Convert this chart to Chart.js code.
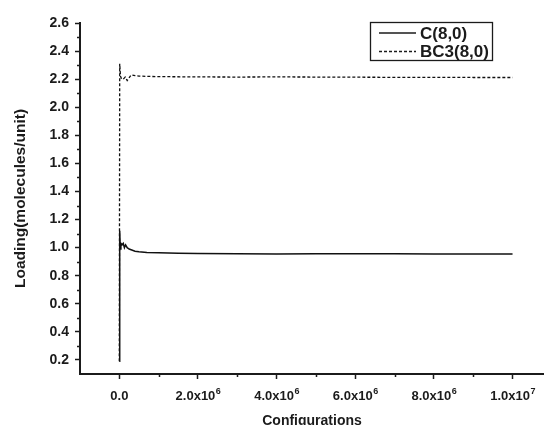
<!DOCTYPE html>
<html>
<head>
<meta charset="utf-8">
<script src="https://cdn.jsdelivr.net/npm/chart.js@4.4.0/dist/chart.umd.min.js"></script>
<style>
  html, body { margin: 0; padding: 0; background: #fff; }
</style>
</head>
<body>
<canvas id="loading" width="544" height="425"></canvas>
<script>
// ---- datos ----
const seriesLabels = ['C(8,0)', 'BC3(8,0)'];

const cConfigs  = [0, 1e4, 2.5e4, 4e4, 7e4, 1e5, 1.3e5, 1.6e5, 2e5, 2.5e5, 3e5, 4e5, 5e5, 7e5, 1e6, 1.5e6, 2e6, 3e6, 4e6, 5e6, 6e6, 7e6, 8e6, 9e6, 1e7];
const cLoading  = [0.19, 1.12, 0.99, 1.03, 1.02, 1.03, 1.00, 1.02, 1.00, 0.99, 0.985, 0.975, 0.97, 0.965, 0.963, 0.96, 0.958, 0.956, 0.955, 0.956, 0.957, 0.956, 0.955, 0.955, 0.955];

const bc3Configs = [0, 1e4, 3e4, 6e4, 1e5, 1.5e5, 2e5, 3e5, 4e5, 5e5, 7e5, 1e6, 2e6, 3e6, 4e6, 5e6, 6e6, 7e6, 8e6, 9e6, 1e7];
const bc3Loading = [0.19, 2.31, 2.22, 2.20, 2.20, 2.215, 2.19, 2.23, 2.225, 2.222, 2.22, 2.218, 2.216, 2.215, 2.216, 2.215, 2.214, 2.213, 2.213, 2.212, 2.212];

const xMajorTicks = [0, 2e6, 4e6, 6e6, 8e6, 1e7];
const xTickBase   = ['0.0', '2.0x10', '4.0x10', '6.0x10', '8.0x10', '1.0x10'];
const xTickExp    = ['', '6', '6', '6', '6', '7'];
const xMinorTicks = [1e6, 3e6, 5e6, 7e6, 9e6];
const yMajorTicks = [0.2, 0.4, 0.6, 0.8, 1.0, 1.2, 1.4, 1.6, 1.8, 2.0, 2.2, 2.4, 2.6];
const yMinorTicks = [0.3, 0.5, 0.7, 0.9, 1.1, 1.3, 1.5, 1.7, 1.9, 2.1, 2.3, 2.5];

const INK = '#1b1b1b';
const FONT = "'Liberation Sans', Arial, sans-serif";

// marcas menores de los ejes
const minorTicks = {
  id: 'minorTicks',
  afterDraw(chart) {
    const { ctx, scales: { x, y } } = chart;
    ctx.save();
    ctx.strokeStyle = INK;
    ctx.lineWidth = 1.5;
    ctx.beginPath();
    xMinorTicks.forEach(v => {
      const px = Math.round(x.getPixelForValue(v)) + 0.5;
      ctx.moveTo(px, x.top);
      ctx.lineTo(px, x.top + 3);
    });
    yMinorTicks.forEach(v => {
      const py = Math.round(y.getPixelForValue(v)) + 0.5;
      ctx.moveTo(y.right, py);
      ctx.lineTo(y.right - 3, py);
    });
    ctx.stroke();
    ctx.restore();
  },
};

// etiquetas del eje x con exponente en superíndice
const expLabels = {
  id: 'expLabels',
  afterDraw(chart) {
    const { ctx, scales: { x } } = chart;
    const baseFont = `bold 13px ${FONT}`;
    const expFont  = `bold 9px ${FONT}`;
    const baseline = x.top + 26;
    ctx.save();
    ctx.fillStyle = INK;
    ctx.textBaseline = 'alphabetic';
    ctx.textAlign = 'left';
    xMajorTicks.forEach((v, i) => {
      ctx.font = baseFont;
      const wb = ctx.measureText(xTickBase[i]).width;
      ctx.font = expFont;
      const we = xTickExp[i] ? ctx.measureText(xTickExp[i]).width : 0;
      const start = x.getPixelForValue(v) - (wb + we) / 2;
      ctx.font = baseFont;
      ctx.fillText(xTickBase[i], start, baseline);
      if (xTickExp[i]) {
        ctx.font = expFont;
        ctx.fillText(xTickExp[i], start + wb + 0.5, baseline - 6);
      }
    });
    ctx.restore();
  },
};

// leyenda con recuadro dentro del área
const boxLegend = {
  id: 'boxLegend',
  afterDraw(chart) {
    const { ctx } = chart;
    const left = 370, top = 22, w = 122, h = 38;
    ctx.save();
    ctx.strokeStyle = INK;
    ctx.lineWidth = 1.3;
    ctx.strokeRect(left + 0.5, top + 0.5, w, h);
    ctx.font = `bold 17px ${FONT}`;
    ctx.fillStyle = INK;
    ctx.textBaseline = 'middle';
    chart.data.datasets.forEach((ds, i) => {
      const yy = top + 11 + i * 18.5;
      ctx.beginPath();
      ctx.lineWidth = ds.borderWidth;
      ctx.setLineDash(ds.borderDash || []);
      ctx.moveTo(left + 9, yy);
      ctx.lineTo(left + 46, yy);
      ctx.stroke();
      ctx.setLineDash([]);
      ctx.fillText(ds.label, left + 50, yy + 1);
    });
    ctx.restore();
  },
};

new Chart(document.getElementById('loading'), {
  type: 'line',
  data: {
    datasets: [
      {
        label: seriesLabels[0],
        data: cConfigs.map((x, i) => ({ x, y: cLoading[i] })),
        borderColor: '#111',
        borderWidth: 1.5,
        pointRadius: 0,
        tension: 0,
      },
      {
        label: seriesLabels[1],
        data: bc3Configs.map((x, i) => ({ x, y: bc3Loading[i] })),
        borderColor: '#111',
        borderWidth: 1.3,
        borderDash: [3, 2],
        pointRadius: 0,
        tension: 0,
      },
    ],
  },
  options: {
    responsive: false,
    animation: false,
    devicePixelRatio: 1,
    layout: { padding: { top: 23, right: 0, bottom: 0, left: 0 } },
    plugins: { legend: { display: false }, tooltip: { enabled: false } },
    scales: {
      x: {
        type: 'linear',
        min: -1e6,
        max: 1.08e7,
        afterBuildTicks: s => { s.ticks = xMajorTicks.map(value => ({ value })); },
        afterFit: s => { s.height = 51; },
        border: { color: INK, width: 2 },
        grid: { drawOnChartArea: false, tickLength: 5, tickWidth: 1.5, tickColor: INK },
        ticks: { display: false },
        title: {
          display: true,
          text: 'Configurations',
          color: INK,
          font: { family: FONT, size: 14, weight: 'bold' },
          padding: { top: 0, bottom: -5 },
        },
      },
      y: {
        type: 'linear',
        min: 0.1,
        max: 2.6,
        afterBuildTicks: s => { s.ticks = yMajorTicks.map(value => ({ value })); },
        afterFit: s => { s.width = 80; },
        border: { color: INK, width: 2 },
        grid: { drawOnChartArea: false, tickLength: 5, tickWidth: 1.5, tickColor: INK },
        ticks: {
          color: INK,
          padding: 6,
          font: { family: FONT, size: 14, weight: 'bold' },
          callback: v => v.toFixed(1),
        },
        title: {
          display: true,
          text: 'Loading(molecules/unit)',
          color: INK,
          font: { family: FONT, size: 15.5, weight: 'bold' },
          padding: { top: 11, bottom: 0 },
        },
      },
    },
  },
  plugins: [minorTicks, expLabels, boxLegend],
});
</script>
</body>
</html>
